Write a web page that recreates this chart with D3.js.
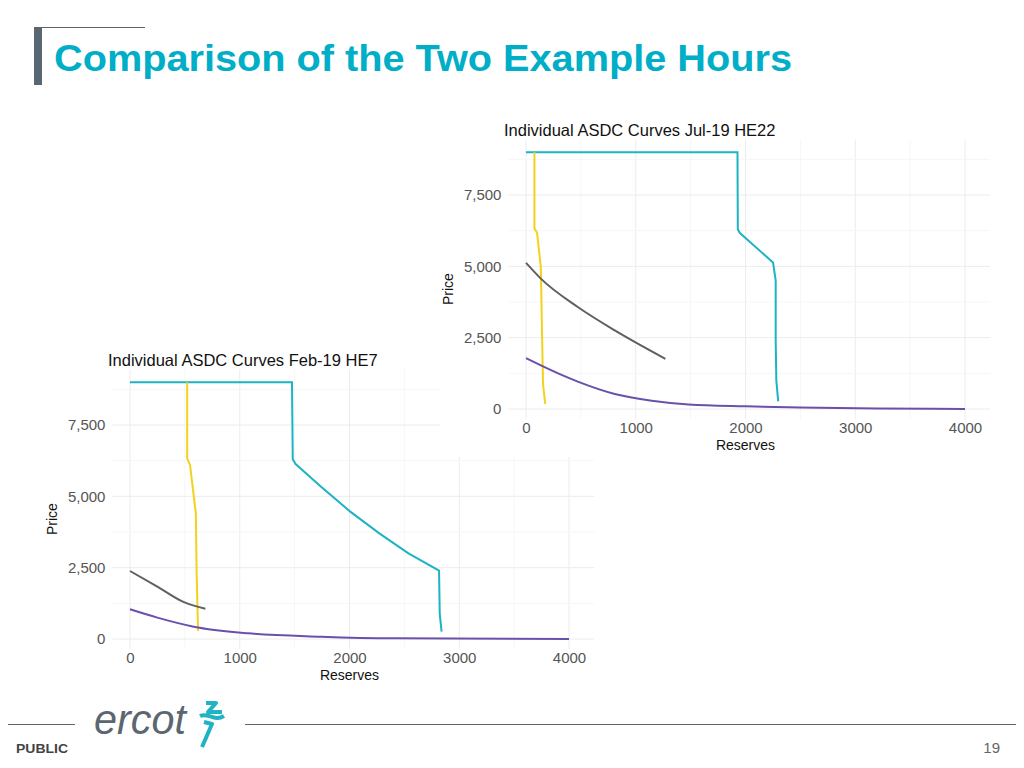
<!DOCTYPE html>
<html><head><meta charset="utf-8">
<script src="https://cdn.jsdelivr.net/npm/d3@7"></script>
<style>body{margin:0;background:#fff}svg{font-family:"Liberation Sans",Arial,sans-serif}</style>
</head><body><svg id="s" width="1024" height="768"></svg>
<script>
const yTicks = [0, 2500, 5000, 7500];
const xTicks = [0, 1000, 2000, 3000, 4000];
const seriesNames = ["cyan", "yellow", "gray", "purple"];
const seriesColors = ["#1db3c3", "#f2d21c", "#606060", "#6a50ad"];

// Jul-19 HE22
const julCyan = [[0,9000],[1927,9000],[1930,6300],[1947,6176],[2251,5133],[2275,4512],[2275,2402],[2281,996],[2298,270]];
const julYellow = [[77,9000],[77,6328],[101,6176],[135,4980],[148,2285],[155,879],[175,176]];
const julGray = [[0,5121],[135,4570],[472,3574],[809,2754],[1270,1758]];
const julPurple = [[0,1781],[303,1230],[472,960],[809,527],[1146,293],[1483,160],[2000,95],[2494,55],[3200,20],[4000,0]];

// Feb-19 HE7
const febCyan = [[0,9000],[1476,9000],[1483,6297],[1509,6133],[1741,5339],[2007,4463],[2272,3703],[2537,3002],[2816,2395],[2822,900],[2839,257]];
const febYellow = [[521,9000],[521,6332],[547,6098],[600,4404],[607,2301],[620,280]];
const febGray = [[0,2383],[249,1834],[481,1308],[687,1063]];
const febPurple = [[0,1040],[249,748],[580,432],[1078,199],[1741,82],[2405,23],[4000,0]];

const svg = d3.select("#s");

function chart(cfg){
  const g = svg.append("g");
  if (cfg.bg) g.append("rect").attr("x",cfg.bg[0]).attr("y",cfg.bg[1]).attr("width",cfg.bg[2]).attr("height",cfg.bg[3]).attr("fill","#fff");
  const x = d3.scaleLinear().domain([0,4000]).range([cfg.x0, cfg.x0+439]);
  const y = d3.scaleLinear().domain([0,7500]).range([cfg.y0, cfg.y0-214]);
  const pl = x(-160), pr = x(4230), pt = y(9450), pb = y(-350);
  const gx = d3.range(0,4001,500), gy = d3.range(0,9001,1250);
  g.selectAll(null).data(gx).join("line").attr("x1",d=>x(d)).attr("x2",d=>x(d)).attr("y1",pt).attr("y2",pb)
    .attr("stroke", d=>d%1000?"#f6f6f6":"#ececec");
  g.selectAll(null).data(gy).join("line").attr("y1",d=>y(d)).attr("y2",d=>y(d)).attr("x1",pl).attr("x2",pr)
    .attr("stroke", d=>d%2500?"#f6f6f6":"#ececec");
  const xa = g.append("g").attr("transform",`translate(0,${pb})`).call(d3.axisBottom(x).tickValues(xTicks).tickSize(0).tickFormat(d3.format("d")));
  const ya = g.append("g").attr("transform",`translate(${pl-4},0)`).call(d3.axisLeft(y).tickValues(yTicks).tickSize(0).tickFormat(d3.format(",")));
  [xa,ya].forEach(a=>{a.select(".domain").remove();a.selectAll("text").attr("font-size",15).attr("fill","#555").attr("font-family","Liberation Sans, Arial");});
  xa.selectAll("text").attr("dy","0.75em");
  g.append("text").attr("x",(x(0)+x(4000))/2).attr("y",pb+31).attr("text-anchor","middle").attr("font-size",14).attr("fill","#111").text("Reserves");
  g.append("text").attr("transform",`translate(${pl-55},${y(4200)}) rotate(-90)`).attr("text-anchor","middle").attr("font-size",14).attr("fill","#111").text("Price");
  g.append("text").attr("x",cfg.tx).attr("y",cfg.ty).attr("font-size",16.5).attr("fill","#111").text(cfg.title);
  const line = d3.line().x(d=>x(d[0])).y(d=>y(d[1]));
  const smooth = d3.line().x(d=>x(d[0])).y(d=>y(d[1])).curve(d3.curveMonotoneX);
  cfg.series.forEach((s,i)=>g.append("path").attr("d",(i>=2?smooth:line)(s)).attr("fill","none")
    .attr("stroke",seriesColors[i]).attr("stroke-width",2));
}

chart({x0:130,y0:639,title:"Individual ASDC Curves Feb-19 HE7",tx:108,ty:366,
  series:[febCyan,febYellow,febGray,febPurple]});
chart({x0:526,y0:409,title:"Individual ASDC Curves Jul-19 HE22",tx:504,ty:136,bg:[440,112,560,345],
  series:[julCyan,julYellow,julGray,julPurple]});

// header
svg.append("rect").attr("x",34).attr("y",27).attr("width",8).attr("height",58).attr("fill","#5b6770");
svg.append("line").attr("x1",42).attr("x2",145).attr("y1",27.5).attr("y2",27.5).attr("stroke","#5b6770");
svg.append("text").attr("x",54).attr("y",71).attr("font-size",36).attr("font-weight","bold").attr("fill","#00aec7")
  .attr("textLength",738).attr("lengthAdjust","spacingAndGlyphs").text("Comparison of the Two Example Hours");
// footer
svg.append("line").attr("x1",8).attr("x2",75).attr("y1",724.5).attr("y2",724.5).attr("stroke","#5b6770");
svg.append("line").attr("x1",245).attr("x2",1016).attr("y1",724.5).attr("y2",724.5).attr("stroke","#5b6770");
svg.append("text").attr("x",16).attr("y",753).attr("font-size",13).attr("font-weight","bold").attr("fill","#444")
  .attr("textLength",52).attr("lengthAdjust","spacingAndGlyphs").text("PUBLIC");
svg.append("text").attr("x",1000).attr("y",753).attr("text-anchor","end").attr("font-size",15).attr("fill","#666").text("19");
svg.append("text").attr("x",94).attr("y",734).attr("font-size",42).attr("font-style","italic").attr("fill","#5b6770")
  .attr("textLength",92).attr("lengthAdjust","spacingAndGlyphs").text("ercot");
svg.append("path").attr("d","M206,703 L216,703 L208,712 L222,712 M200,716 C208,712 214,722 224,716 M204,722 L212,724 L202,747")
  .attr("fill","none").attr("stroke","#1fb3c4").attr("stroke-width",4).attr("stroke-linejoin","round");
</script></body></html>
